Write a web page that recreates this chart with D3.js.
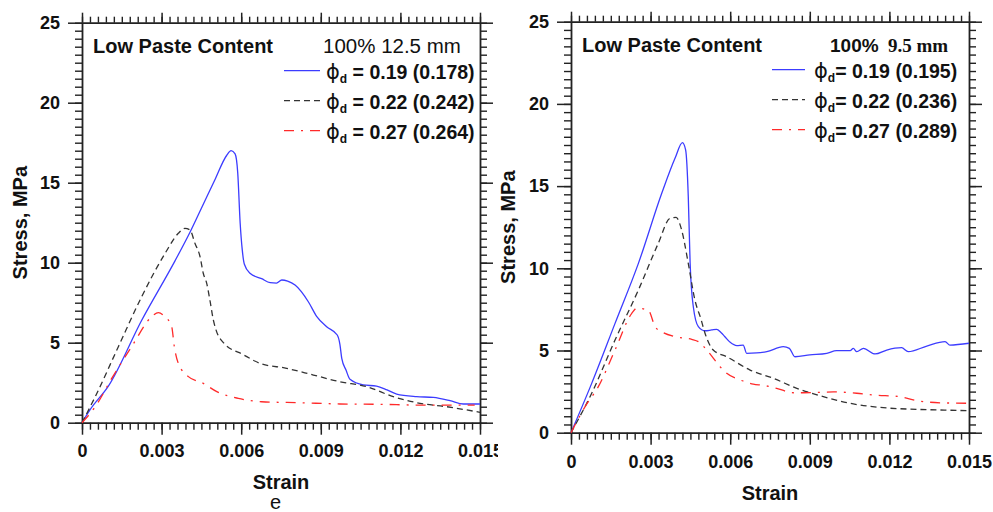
<!DOCTYPE html>
<html>
<head>
<meta charset="utf-8">
<script src="https://cdn.jsdelivr.net/npm/d3@7"></script>
<style>
  body { margin: 0; background: #fff; }
  svg { display: block; }
</style>
</head>
<body>
<div id="chart"></div>
<script>
// ---- data ----
// [strain, stress MPa]
const left019 = [[0,0],[0.0003,0.8],[0.001,2.3],[0.00225,6.4],[0.0035,10.1],[0.00407,11.9],[0.0045,13.4],[0.005,15.15],[0.00545,16.7],[0.00562,17.0],[0.00577,16.8],[0.00587,15.6],[0.00596,12.5],[0.00604,10.8],[0.00612,9.9],[0.00633,9.34],[0.00677,9.0],[0.00709,8.75],[0.00733,8.72],[0.00753,8.92],[0.00775,8.85],[0.00803,8.6],[0.00853,7.56],[0.00885,6.63],[0.00922,6.0],[0.00962,5.48],[0.00972,4.9],[0.00979,4.02],[0.00995,3.29],[0.0101,2.71],[0.0106,2.36],[0.0111,2.29],[0.0115,2.05],[0.01186,1.79],[0.01261,1.63],[0.01324,1.58],[0.01387,1.38],[0.01437,1.17],[0.015,1.17]];
const left022 = [[0,0],[0.0005,1.63],[0.00137,4.75],[0.00225,7.88],[0.00313,10.58],[0.00363,11.84],[0.00388,12.15],[0.00407,12.04],[0.00426,11.2],[0.00445,10.37],[0.00457,9.34],[0.0047,8.71],[0.00482,7.67],[0.00495,6.42],[0.00505,5.8],[0.00533,5.0],[0.00608,4.25],[0.00671,3.71],[0.00771,3.4],[0.00872,2.98],[0.00972,2.56],[0.01073,2.25],[0.01173,1.63],[0.01274,1.21],[0.01374,1.0],[0.015,0.65]];
const left027 = [[0,0],[0.0005,1.0],[0.00112,2.77],[0.00187,4.75],[0.00263,6.63],[0.00288,6.88],[0.00306,6.73],[0.00338,6.0],[0.00348,4.75],[0.00363,3.71],[0.00401,2.88],[0.00457,2.46],[0.00508,1.94],[0.00589,1.52],[0.00677,1.31],[0.00822,1.25],[0.00972,1.17],[0.01123,1.15],[0.01274,1.1],[0.0148,1.1]];

const right019 = [[0,0],[0.00078,3.0],[0.00166,6.65],[0.00254,10.3],[0.00342,14.56],[0.00392,16.69],[0.0042,17.64],[0.00432,17.2],[0.00442,14.36],[0.00449,10.3],[0.00461,7.66],[0.0048,6.45],[0.00505,6.2],[0.0053,6.25],[0.00549,6.29],[0.00565,6.1],[0.0058,5.84],[0.006,5.5],[0.00625,5.3],[0.00649,5.33],[0.00662,4.83],[0.007,4.85],[0.00738,4.93],[0.008,5.23],[0.00823,5.13],[0.00844,4.62],[0.009,4.73],[0.00964,4.83],[0.01001,4.99],[0.01052,4.99],[0.01064,5.13],[0.01077,4.93],[0.01102,5.13],[0.01146,4.79],[0.0119,5.03],[0.01246,5.17],[0.01271,4.93],[0.01341,5.27],[0.0141,5.54],[0.01428,5.33],[0.015,5.44]];
const right022 = [[0,0],[0.00078,2.4],[0.00166,5.64],[0.00254,8.68],[0.00329,11.52],[0.00373,13.04],[0.00396,13.1],[0.00417,12.33],[0.00442,10.3],[0.00467,8.07],[0.0049,6.9],[0.00505,6.05],[0.00536,5.03],[0.00587,4.62],[0.00675,3.81],[0.00762,3.31],[0.00851,2.7],[0.00951,2.19],[0.01064,1.75],[0.01177,1.52],[0.01303,1.42],[0.01391,1.38],[0.015,1.34]];
const right027 = [[0,0],[0.00053,1.58],[0.00103,2.8],[0.00166,5.03],[0.00229,7.26],[0.00248,7.57],[0.00291,7.46],[0.00317,6.45],[0.00342,6.14],[0.00392,5.84],[0.00455,5.68],[0.0048,5.54],[0.00517,4.93],[0.00562,4.01],[0.00587,3.61],[0.00637,3.21],[0.00687,2.96],[0.00725,2.88],[0.00775,2.7],[0.00838,2.43],[0.00876,2.43],[0.00989,2.48],[0.01077,2.4],[0.0114,2.29],[0.0124,2.19],[0.01303,1.95],[0.01391,1.82],[0.015,1.79]];

const xTicks = [0, 0.003, 0.006, 0.009, 0.012, 0.015];
const yTicks = [0, 5, 10, 15, 20, 25];
const leftLegend = [' = 0.19 (0.178)', ' = 0.22 (0.242)', ' = 0.27 (0.264)'];
const rightLegend = ['= 0.19 (0.195)', '= 0.22 (0.236)', '= 0.27 (0.289)'];

const FONT = '"Liberation Sans", Arial, sans-serif';
const styles = [
    { color: '#3c3cff', dash: null },
    { color: '#333333', dash: '6,4' },
    { color: '#ff2a2a', dash: '10,7,2,7' }
];

const svg = d3.select('#chart')
    .append('svg')
    .attr('width', 993)
    .attr('height', 512);

function drawPanel(p) {
    const g = svg.append('g');
    const x = d3.scaleLinear().domain([0, 0.015]).range([p.left, p.right]);
    const y = d3.scaleLinear().domain([0, 25]).range([p.bottom, p.top]);

    const xMinor = d3.range(0, 0.01501, 0.0003);
    const yMinor = d3.range(0, 25.01, 0.5);

    // minor ticks on all four sides
    const minor = [
        [d3.axisBottom(x).tickValues(xMinor).tickSize(7), p.bottom, 'x'],
        [d3.axisTop(x).tickValues(xMinor).tickSize(6), p.top, 'x'],
        [d3.axisLeft(y).tickValues(yMinor).tickSize(7), p.left, 'y'],
        [d3.axisRight(y).tickValues(yMinor).tickSize(7), p.right, 'y']
    ];
    minor.forEach(([ax, pos, kind]) => {
        g.append('g')
            .attr('transform', kind === 'x' ? `translate(0,${pos})` : `translate(${pos},0)`)
            .call(ax.tickFormat('').tickSizeOuter(0))
            .call(s => s.selectAll('line,path').attr('stroke', '#222').attr('stroke-width', 1.4));
    });

    // major ticks + labels
    const bottom = g.append('g')
        .attr('transform', `translate(0,${p.bottom})`)
        .call(d3.axisBottom(x).tickValues(xTicks).tickSize(12).tickSizeOuter(0).tickPadding(p.xPad)
            .tickFormat(d => d === 0 ? '0' : d.toFixed(3)));
    const top = g.append('g')
        .attr('transform', `translate(0,${p.top})`)
        .call(d3.axisTop(x).tickValues(xTicks).tickSize(10).tickSizeOuter(0).tickFormat(''));
    const left = g.append('g')
        .attr('transform', `translate(${p.left},0)`)
        .call(d3.axisLeft(y).tickValues(yTicks).tickSize(14).tickSizeOuter(0).tickPadding(8).tickFormat(d3.format('d')));
    const right = g.append('g')
        .attr('transform', `translate(${p.right},0)`)
        .call(d3.axisRight(y).tickValues(yTicks).tickSize(13).tickSizeOuter(0).tickFormat(''));

    [bottom, top, left, right].forEach(a => {
        a.selectAll('line,path').attr('stroke', '#222').attr('stroke-width', 1.5);
        a.selectAll('text')
            .attr('fill', '#111')
            .style('font-family', FONT)
            .style('font-weight', 'bold')
            .style('font-size', '18px');
    });

    // curves
    const line = d3.line()
        .x(d => x(d[0]))
        .y(d => y(d[1]))
        .curve(d3.curveMonotoneX);

    p.series.forEach((s, i) => {
        g.append('path')
            .datum(s)
            .attr('d', line)
            .attr('fill', 'none')
            .attr('stroke', styles[i].color)
            .attr('stroke-width', 1.3)
            .attr('stroke-dasharray', styles[i].dash);
    });

    // axis titles
    g.append('text')
        .attr('transform', `translate(${p.yTitleX},${(p.top + p.bottom) / 2}) rotate(-90)`)
        .attr('text-anchor', 'middle')
        .style('font-family', FONT)
        .style('font-weight', 'bold')
        .style('font-size', '20px')
        .attr('fill', '#111')
        .text('Stress, MPa');

    g.append('text')
        .attr('x', (p.left + p.right) / 2)
        .attr('y', p.xTitleY)
        .attr('text-anchor', 'middle')
        .style('font-family', FONT)
        .style('font-weight', 'bold')
        .style('font-size', '20px')
        .attr('fill', '#111')
        .text('Strain');

    g.append('text')
        .attr('x', p.left + 11)
        .attr('y', p.top + 30)
        .style('font-family', FONT)
        .style('font-weight', 'bold')
        .style('font-size', '20px')
        .attr('fill', '#111')
        .text('Low Paste Content');

    // legend
    p.legend.forEach((label, i) => {
        const ly = p.top + 48 + i * 30;
        g.append('line')
            .attr('x1', p.legX1).attr('x2', p.legX2)
            .attr('y1', ly).attr('y2', ly)
            .attr('stroke', styles[i].color)
            .attr('stroke-width', 1.3)
            .attr('stroke-dasharray', styles[i].dash);
        const t = g.append('text')
            .attr('x', p.legText)
            .attr('y', ly + 8)
            .attr('fill', '#111')
            .style('font-family', FONT)
            .style('font-size', '19.5px');
        t.append('tspan').style('font-family', '"DejaVu Sans", sans-serif').style('font-size', '21px').text('ϕ');
        t.append('tspan').style('font-weight', 'bold').style('font-size', '12px').attr('dy', 4).text('d');
        t.append('tspan').style('font-weight', 'bold').attr('dy', -4).text(label);
    });

    return g;
}

const leftPanel = drawPanel({
    left: 82, right: 480, top: 22.7, bottom: 422.7,
    xPad: 10, yTitleX: 27, xTitleY: 489,
    series: [left019, left022, left027],
    legend: leftLegend,
    legX1: 284, legX2: 320, legText: 326
});

leftPanel.append('text')
    .attr('x', 323).attr('y', 53)
    .style('font-family', FONT)
    .style('font-size', '20.5px')
    .attr('fill', '#111')
    .text('100% 12.5 mm');

leftPanel.append('text')
    .attr('x', 270).attr('y', 509)
    .style('font-family', FONT)
    .style('font-size', '20px')
    .attr('fill', '#111')
    .text('e');

// second figure sits on its own white sheet
svg.append('rect')
    .attr('x', 498).attr('y', 0)
    .attr('width', 495).attr('height', 512)
    .attr('fill', '#fff');

const rightPanel = drawPanel({
    left: 571, right: 969, top: 21.7, bottom: 432.7,
    xPad: 11, yTitleX: 515, xTitleY: 500,
    series: [right019, right022, right027],
    legend: rightLegend,
    legX1: 772, legX2: 805, legText: 814
});

const hdr = rightPanel.append('text')
    .attr('x', 830).attr('y', 52)
    .attr('fill', '#111');
hdr.append('tspan')
    .style('font-family', FONT)
    .style('font-weight', 'bold')
    .style('font-size', '19px')
    .text('100% ');
hdr.append('tspan')
    .attr('x', 888)
    .style('font-family', '"Liberation Serif", "Times New Roman", serif')
    .style('font-weight', 'bold')
    .style('font-size', '19px')
    .text('9.5 mm');
</script>
</body>
</html>
